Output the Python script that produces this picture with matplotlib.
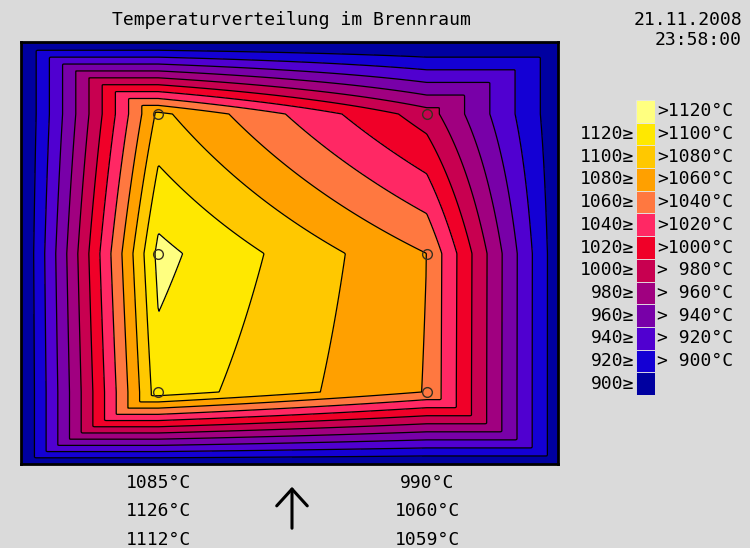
import numpy as np
import matplotlib
matplotlib.use("Agg")
import matplotlib.pyplot as plt

# ---------------- data ----------------
title = "Temperaturverteilung im Brennraum"
date_str = "21.11.2008"
time_str = "23:58:00"

# sensor grid (chamber coordinates, y downwards)
sensor_x = [137.3, 405.7]            # left / right sensor column
sensor_y = [72.0, 211.5, 350.0]      # top / middle / bottom sensor row
left_temps = [1085, 1126, 1112]      # left column, top -> bottom
right_temps = [990, 1060, 1059]      # right column, top -> bottom

# estimated wall temperatures
edge_left = 877.0
edge_right = 886.0
edge_top = 876.0
edge_bottom = 880.0

chamber_w = 537.0
chamber_h = 422.0

levels = [900, 920, 940, 960, 980, 1000, 1020, 1040, 1060, 1080, 1100, 1120]
band_colors = ['#0000a0', '#1400d4', '#5000d0', '#7800a8', '#a00080',
               '#c80050', '#f00028', '#ff2864', '#ff7840', '#ffa000',
               '#ffc800', '#ffe800', '#ffff80']

legend_right = ["", "> 900°C", "> 920°C", "> 940°C", "> 960°C", "> 980°C",
                ">1000°C", ">1020°C", ">1040°C", ">1060°C", ">1080°C",
                ">1100°C", ">1120°C"]
legend_left = ["900≥", "920≥", "940≥", "960≥", "980≥", "1000≥",
               "1020≥", "1040≥", "1060≥", "1080≥", "1100≥", "1120≥", ""]

# ---------------- field ----------------
gx = np.linspace(0, chamber_w, 538)
gy = np.linspace(0, chamber_h, 423)
X, Y = np.meshgrid(gx, gy)
x0, x1 = sensor_x
y0, y1 = sensor_y[0], sensor_y[-1]
cx = np.clip(X, x0, x1)
cy = np.clip(Y, y0, y1)
Lc = np.interp(cy, sensor_y, left_temps)
Rc = np.interp(cy, sensor_y, right_temps)
V = Lc + (Rc - Lc) * (cx - x0) / (x1 - x0)

dxl = np.clip((x0 - X) / x0, 0, 1)
dxr = np.clip((X - x1) / (chamber_w - x1), 0, 1)
dyt = np.clip((y0 - Y) / y0, 0, 1)
dyb = np.clip((Y - y1) / (chamber_h - y1), 0, 1)
ramp_x = V + (edge_left - V) * dxl + (edge_right - V) * dxr
ramp_y = V + (edge_top - V) * dyt + (edge_bottom - V) * dyb
Z = np.minimum(ramp_x, ramp_y)

# ---------------- figure ----------------
W, H = 750, 548
bg = '#dadada'
fig = plt.figure(figsize=(W / 100, H / 100), dpi=100, facecolor=bg)
mono = 'DejaVu Sans Mono'


def fx(px):
    return px / W


def fy(py):
    return 1 - py / H


ax = fig.add_axes([fx(21), fy(464), (558 - 21) / W, (464 - 42) / H])
fill_levels = [800] + levels + [1300]
ax.contourf(X, Y, Z, levels=fill_levels, colors=band_colors)
ax.contour(X, Y, Z, levels=levels, colors='black', linewidths=0.9)
sx = [sensor_x[0]] * 3 + [sensor_x[1]] * 3
sy = list(sensor_y) * 2
ax.plot(sx, sy, 'o', mfc='none', mec='#3a3020', ms=7, mew=1.0)
ax.set_xlim(0, chamber_w)
ax.set_ylim(chamber_h, 0)
ax.set_xticks([])
ax.set_yticks([])
for s in ax.spines.values():
    s.set_linewidth(2)
    s.set_color('black')

# legend boxes
lax = fig.add_axes([fx(636), fy(395), 19 / W, (395 - 100) / H])
n = len(band_colors)
lax.bar([0] * n, [1] * n, bottom=np.arange(n), width=1, color=band_colors,
        edgecolor='#e6e6e6', linewidth=0.6, align='edge')
lax.set_xlim(0, 1)
lax.set_ylim(0, n)
lax.axis('off')
box_h = (395 - 100) / n
for i in range(n):
    yc = 395 - box_h * (i + 0.5)
    if legend_right[i]:
        fig.text(fx(657), fy(yc), legend_right[i], ha='left', va='center',
                 family=mono, fontsize=13)
    if legend_left[i]:
        fig.text(fx(634), fy(yc), legend_left[i], ha='right', va='center',
                 family=mono, fontsize=13)

fig.text(fx(291), fy(20), title, ha='center', va='center', family=mono,
         fontsize=13)
fig.text(fx(742), fy(20), date_str, ha='right', va='center', family=mono,
         fontsize=13)
fig.text(fx(742), fy(40), time_str, ha='right', va='center', family=mono,
         fontsize=13)

rows_y = [483, 511, 540]
for t, yy in zip(left_temps, rows_y):
    fig.text(fx(158), fy(yy), f"{t}°C", ha='center', va='center',
             family=mono, fontsize=13)
for t, yy in zip(right_temps, rows_y):
    fig.text(fx(427), fy(yy), f"{t}°C", ha='center', va='center',
             family=mono, fontsize=13)

fig.patches.append(matplotlib.patches.FancyArrowPatch(
    (fx(292), fy(531)), (fx(292), fy(484)), transform=fig.transFigure,
    arrowstyle='->,head_length=0.55,head_width=0.5', mutation_scale=22,
    lw=2.2, color='black'))

fig.savefig('out.png', dpi=100, facecolor=bg)
